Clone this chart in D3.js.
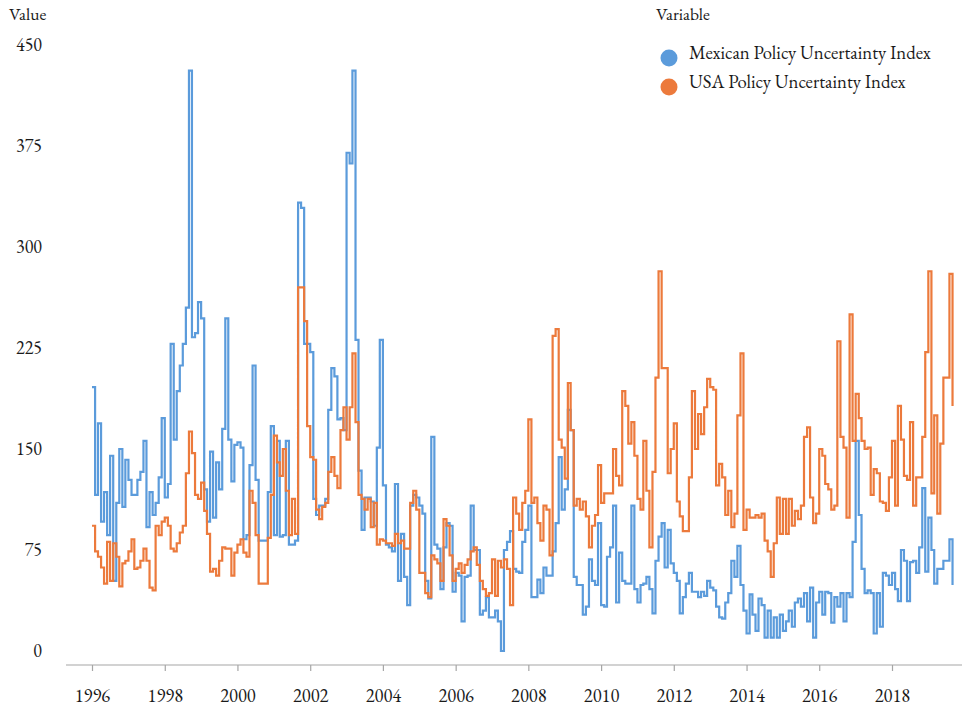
<!DOCTYPE html>
<html><head><meta charset="utf-8">
<script src="https://cdn.jsdelivr.net/npm/d3@7"></script>
<style>
body{margin:0;background:#fff}
svg{display:block}
text{font-family:"EB Garamond",Garamond,"Liberation Serif","Times New Roman",serif;fill:#1a1a1a}
</style>
</head><body><svg id="c" width="980" height="707"></svg>
<script>
const seriesNames = ["Mexican Policy Uncertainty Index", "USA Policy Uncertainty Index"];
const seriesColors = ["#5b9bdb", "#ec7a3c"];
const startYear = 1996;

const mexican = [
196,116,169,96,118,86,145,52,110,150,
107,142,127,116,116,127,133,156,92,118,
101,110,129,173,114,124,228,157,193,212,
228,255,431,233,236,259,247,120,96,148,
99,140,120,165,247,157,126,153,155,151,
83,86,138,212,127,82,82,82,118,167,86,
156,85,86,156,79,79,82,333,329,228,
228,222,113,101,108,108,113,179,210,204,
172,173,164,370,362,431,231,134,90,114,
114,111,93,151,231,123,79,77,74,124,
52,87,55,34,108,116,114,108,102,52,
39,159,79,76,46,77,95,93,44,58,
56,22,55,56,108,75,75,27,30,40,
25,25,30,22,0,75,81,89,61,59,
58,81,90,108,40,40,53,43,62,56,
56,74,95,144,105,120,179,164,55,49,
49,27,33,68,52,49,95,34,33,70,
77,108,36,73,52,50,50,108,46,36,49,
50,55,46,28,67,85,95,62,90,65,
58,52,28,40,50,58,44,44,40,44,
41,52,47,45,33,25,24,36,43,67,
55,78,49,30,13,42,27,15,39,34,
10,30,10,25,10,27,15,22,30,18,
36,39,33,43,22,47,10,36,44,27,
44,43,21,40,33,43,22,43,40,81,
156,101,61,43,45,43,13,43,18,58,
56,49,58,46,37,75,67,37,66,67,
58,77,121,59,99,75,50,61,61,67,
67,83,49
];

const usa = [
93,74,70,62,50,81,52,80,70,48,
65,67,74,83,61,62,67,76,67,47,
45,93,86,96,99,93,76,74,80,88,
93,132,163,147,116,113,125,104,87,59,
61,56,67,77,76,76,56,73,79,83,
73,70,119,110,86,50,50,50,84,116,160,
140,130,150,119,86,113,87,270,270,245,
167,144,142,105,98,107,110,133,144,130,
121,164,181,157,181,221,170,116,113,105,
113,92,110,79,83,82,80,80,78,87,
80,82,76,76,110,119,105,58,58,43,
40,71,68,65,52,98,93,71,52,61,
65,58,64,68,74,77,64,52,46,41,
43,68,41,67,62,68,61,34,114,102,
90,110,119,172,110,114,95,82,108,105,
71,234,239,157,151,128,199,164,108,113,
105,111,100,77,93,101,138,110,117,117,117,
150,130,123,193,182,154,170,145,113,105,
156,119,77,133,203,282,210,210,132,150,
169,111,100,89,89,129,193,150,176,161,
181,202,196,194,123,139,129,101,119,92,
102,175,221,90,105,99,99,101,99,102,
82,74,55,80,114,87,113,87,113,93,
104,98,108,159,166,114,95,102,150,145,
124,120,105,108,230,159,151,99,250,156,
191,173,156,150,151,116,135,132,111,110,
104,129,156,108,182,157,130,127,170,108,
129,129,159,222,282,117,175,102,154,203,
203,280,182
];

const yTicks = [0, 75, 150, 225, 300, 375, 450];
const xTickYears = [1996, 1998, 2000, 2002, 2004, 2006, 2008, 2010, 2012, 2014, 2016, 2018];
const yTitle = "Value";
const legendTitle = "Variable";

const svg = d3.select("#c");
const dates = mexican.map((_, i) => new Date(startYear, i, 1));

const x = d3.scaleTime()
  .domain([new Date(1996, 0, 1), new Date(2018, 0, 1)])
  .range([92, 892]);
const y = d3.scaleLinear().domain([0, 450]).range([651, 45]);

// x axis
const xAxis = d3.axisBottom(x)
  .tickValues(xTickYears.map(yr => new Date(yr, 0, 1)))
  .tickFormat(d3.timeFormat("%Y"))
  .tickSize(6)
  .tickPadding(18);
const gx = svg.append("g").attr("transform", "translate(0,665)").call(xAxis);
gx.select(".domain").remove();
gx.selectAll(".tick line").attr("stroke", "#a6a6a6").attr("stroke-width", 1.2);
gx.selectAll(".tick text").style("font-size", "18.5px").attr("fill", "#1a1a1a");
gx.append("line").attr("x1", 66).attr("x2", 962).attr("y1", 0).attr("y2", 0)
  .attr("stroke", "#a6a6a6").attr("stroke-width", 1.2);

// y axis
const yAxis = d3.axisLeft(y).tickValues(yTicks).tickSize(0).tickPadding(0);
const gy = svg.append("g").attr("transform", "translate(42,0)").call(yAxis);
gy.select(".domain").remove();
gy.selectAll(".tick text").style("font-size", "18px").attr("fill", "#1a1a1a");

svg.append("text").attr("x", 9).attr("y", 20).style("font-size", "17.5px").text(yTitle);

// lines
const line = d3.line()
  .curve(d3.curveStepAfter)
  .x((d, i) => x(dates[i]))
  .y(d => y(d));

[mexican, usa].forEach((s, k) => {
  svg.append("path")
    .datum(s)
    .attr("fill", "none")
    .attr("stroke", seriesColors[k])
    .attr("stroke-width", 2.2)
    .attr("stroke-linejoin", "miter")
    .attr("d", line);
});

// legend
svg.append("text").attr("x", 656).attr("y", 20).style("font-size", "17.5px").text(legendTitle);
const lg = svg.append("g");
seriesNames.forEach((n, k) => {
  lg.append("circle").attr("cx", 669).attr("cy", 58 + k * 29).attr("r", 8.5).attr("fill", seriesColors[k]);
  lg.append("text").attr("x", 689).attr("y", 58 + k * 29).attr("dy", "0.05em")
    .style("font-size", "18.7px").text(n);
});
</script>
</body></html>
